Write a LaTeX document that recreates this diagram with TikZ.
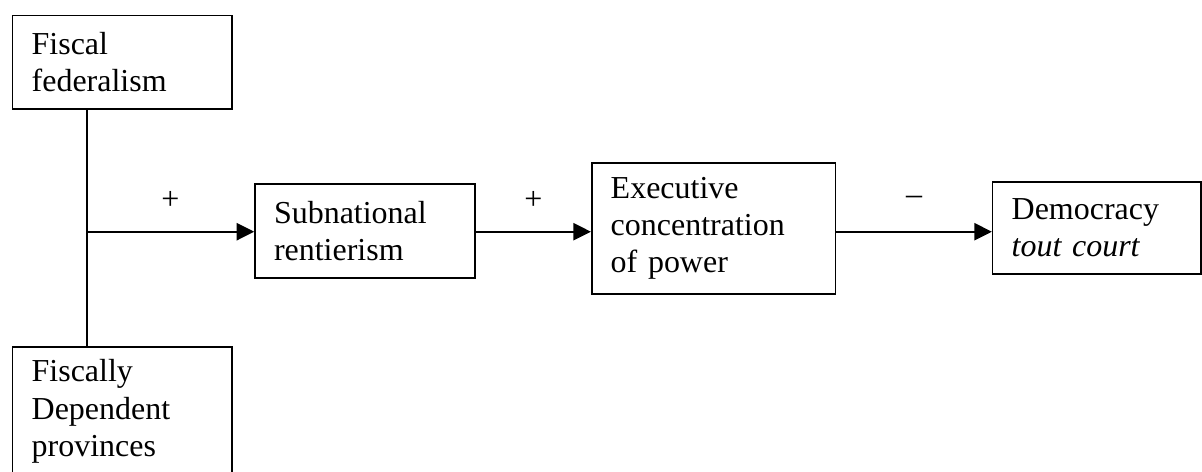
\documentclass[tikz,border=0pt]{standalone}
\usepackage{fontspec}
\setmainfont{Liberation Serif}
\usetikzlibrary{arrows.meta}

\begin{document}
\begin{tikzpicture}[x=0.02cm,y=-0.02cm,
    factor/.style={draw,line width=0.9pt,align=left,inner xsep=0.38cm,inner ysep=0pt,
      font=\fontsize{18.2}{21.2}\selectfont},
    link/.style={line width=1.3pt},
    causal/.style={link,-{Triangle[length=0.35cm,width=0.34cm]}},
    sign/.style={font=\fontsize{18.2}{21.2}\selectfont,inner sep=0pt}]
      \useasboundingbox (0,0) rectangle (1202,471);
      \node[factor,text width=3.63cm,minimum height=1.87cm] (fed) at (122.4,62.4) {Fiscal\\federalism};
      \node[factor,text width=3.63cm,minimum height=2.58cm] (dep) at (122.4,411.5) {Fiscally\\Dependent\\provinces};
      \node[factor,text width=3.64cm,minimum height=1.88cm] (sub) at (365,231) {Subnational\\rentierism};
      \node[factor,text width=4.12cm,minimum height=2.62cm] (exe) at (713.7,228.5) {Executive\\concentration\\of power};
      \node[factor,text width=3.41cm,minimum height=1.85cm] (dem) at (1096.9,228) {Democracy\\\textit{tout court}};
      \coordinate (jn) at (86.7,231.7);
      \draw[link] (fed.south -| jn) -- (dep.north -| jn);
      \draw[causal] (jn) -- (sub.west |- jn) node[sign,midway,above=0.42cm] (s1) {+};
      \draw[causal] (sub.east |- jn) -- (exe.west |- jn) node[sign,midway,above=0.42cm] (s2) {+};
      \draw[causal] (exe.east |- jn) -- (dem.west |- jn) node[sign,midway,above=0.53cm] (s3) {–};
\end{tikzpicture}
\end{document}
